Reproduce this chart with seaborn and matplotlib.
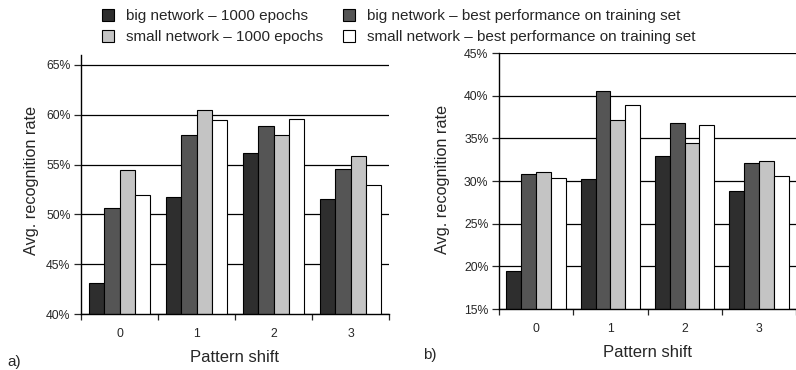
import matplotlib
matplotlib.use("Agg")
import matplotlib.pyplot as plt
import matplotlib.patches as mpatches
import numpy as np
import pandas as pd
import seaborn as sns

# Data (recognition rate in %)
shifts = ["0", "1", "2", "3"]
series = [
    "big network – 1000 epochs",
    "big network – best performance on training set",
    "small network – 1000 epochs",
    "small network – best performance on training set",
]
colors = ["#2e2e2e", "#555555", "#c4c4c4", "#ffffff"]

# panel a)
a_big_1000 = [43.1, 51.7, 56.2, 51.5]
a_big_best = [50.6, 58.0, 58.9, 54.6]
a_small_1000 = [54.5, 60.5, 58.0, 55.9]
a_small_best = [51.9, 59.5, 59.6, 53.0]

# panel b)
b_big_1000 = [19.5, 30.2, 32.9, 28.8]
b_big_best = [30.8, 40.5, 36.8, 32.1]
b_small_1000 = [31.1, 37.2, 34.4, 32.4]
b_small_best = [30.4, 38.9, 36.6, 30.6]

a_ticks = [40, 45, 50, 55, 60, 65]
b_ticks = [15, 20, 25, 30, 35, 40, 45]


def to_long(values):
    rows = []
    for name, vals in zip(series, values):
        for s, v in zip(shifts, vals):
            rows.append({"shift": s, "rate": v, "series": name})
    return pd.DataFrame(rows)


sns.set_style("ticks")
plt.rcParams["font.family"] = ["Liberation Sans", "DejaVu Sans"]

fig = plt.figure(figsize=(7.96, 3.70), dpi=100)
ax_a = fig.add_axes([81 / 796, 56 / 370, 308 / 796, 259 / 370])
ax_b = fig.add_axes([499 / 796, 61 / 370, 297 / 796, 256 / 370])

panels = [
    (ax_a, to_long([a_big_1000, a_big_best, a_small_1000, a_small_best]),
     a_ticks, (40, 66.0), (-0.5, 3.5), -0.135, 0.514),
    (ax_b, to_long([b_big_1000, b_big_best, b_small_1000, b_small_best]),
     b_ticks, (15, 45), (-0.5, -0.5 + 297 / 76.3), -0.165, 0.508),
]

for ax, df, yticks, ylim, xlim, ylab_x, ylab_y in panels:
    sns.barplot(
        data=df, x="shift", y="rate", hue="series",
        order=shifts, hue_order=series, palette=colors,
        saturation=1, edgecolor="black", linewidth=0.8,
        errorbar=None, legend=False, ax=ax,
    )
    ax.set_ylim(*ylim)
    ax.set_xlim(*xlim)
    ax.set_yticks(yticks)
    ax.set_yticklabels([f"{t}%" for t in yticks])
    ax.yaxis.grid(True, color="black", linewidth=0.9)
    ax.set_axisbelow(True)

    ax.set_xticks(range(len(shifts)))
    ax.set_xticklabels(shifts)
    ax.set_xticks([-0.5, 0.5, 1.5, 2.5, 3.5], minor=True)
    ax.tick_params(axis="x", which="major", length=0, pad=10, labelsize=8.8)
    ax.tick_params(axis="x", which="minor", length=4, width=0.9, direction="out")
    ax.tick_params(axis="y", length=5, width=0.9, pad=2.5, labelsize=8.8)

    for side in ["top", "right"]:
        ax.spines[side].set_visible(False)
    for side in ["left", "bottom"]:
        ax.spines[side].set_linewidth(1.0)
        ax.spines[side].set_color("black")

    ax.set_xlabel("Pattern shift", fontsize=12)
    ax.xaxis.set_label_coords(0.5, -0.14)
    ax.set_ylabel("Avg. recognition rate", fontsize=11.7)
    ax.yaxis.set_label_coords(ylab_x, ylab_y)

fig.text(7 / 796, 1 - 362 / 370, "a)", fontsize=11, va="center", ha="left")
fig.text(423 / 796, 1 - 355 / 370, "b)", fontsize=11, va="center", ha="left")

# legend: two columns across the top
handles = [mpatches.Patch(facecolor=c, edgecolor="black", linewidth=0.8) for c in colors]
order = [0, 2, 1, 3]
fig.legend(
    [handles[i] for i in order], [series[i] for i in order],
    ncol=2, loc="upper left", bbox_to_anchor=(102 / 796, 1 - 9 / 370),
    frameon=False, fontsize=11, borderpad=0, borderaxespad=0,
    handlelength=0.8, handleheight=0.8, handletextpad=0.8,
    columnspacing=1.25, labelspacing=0.45,
)

fig.savefig("out.png", dpi=100)
